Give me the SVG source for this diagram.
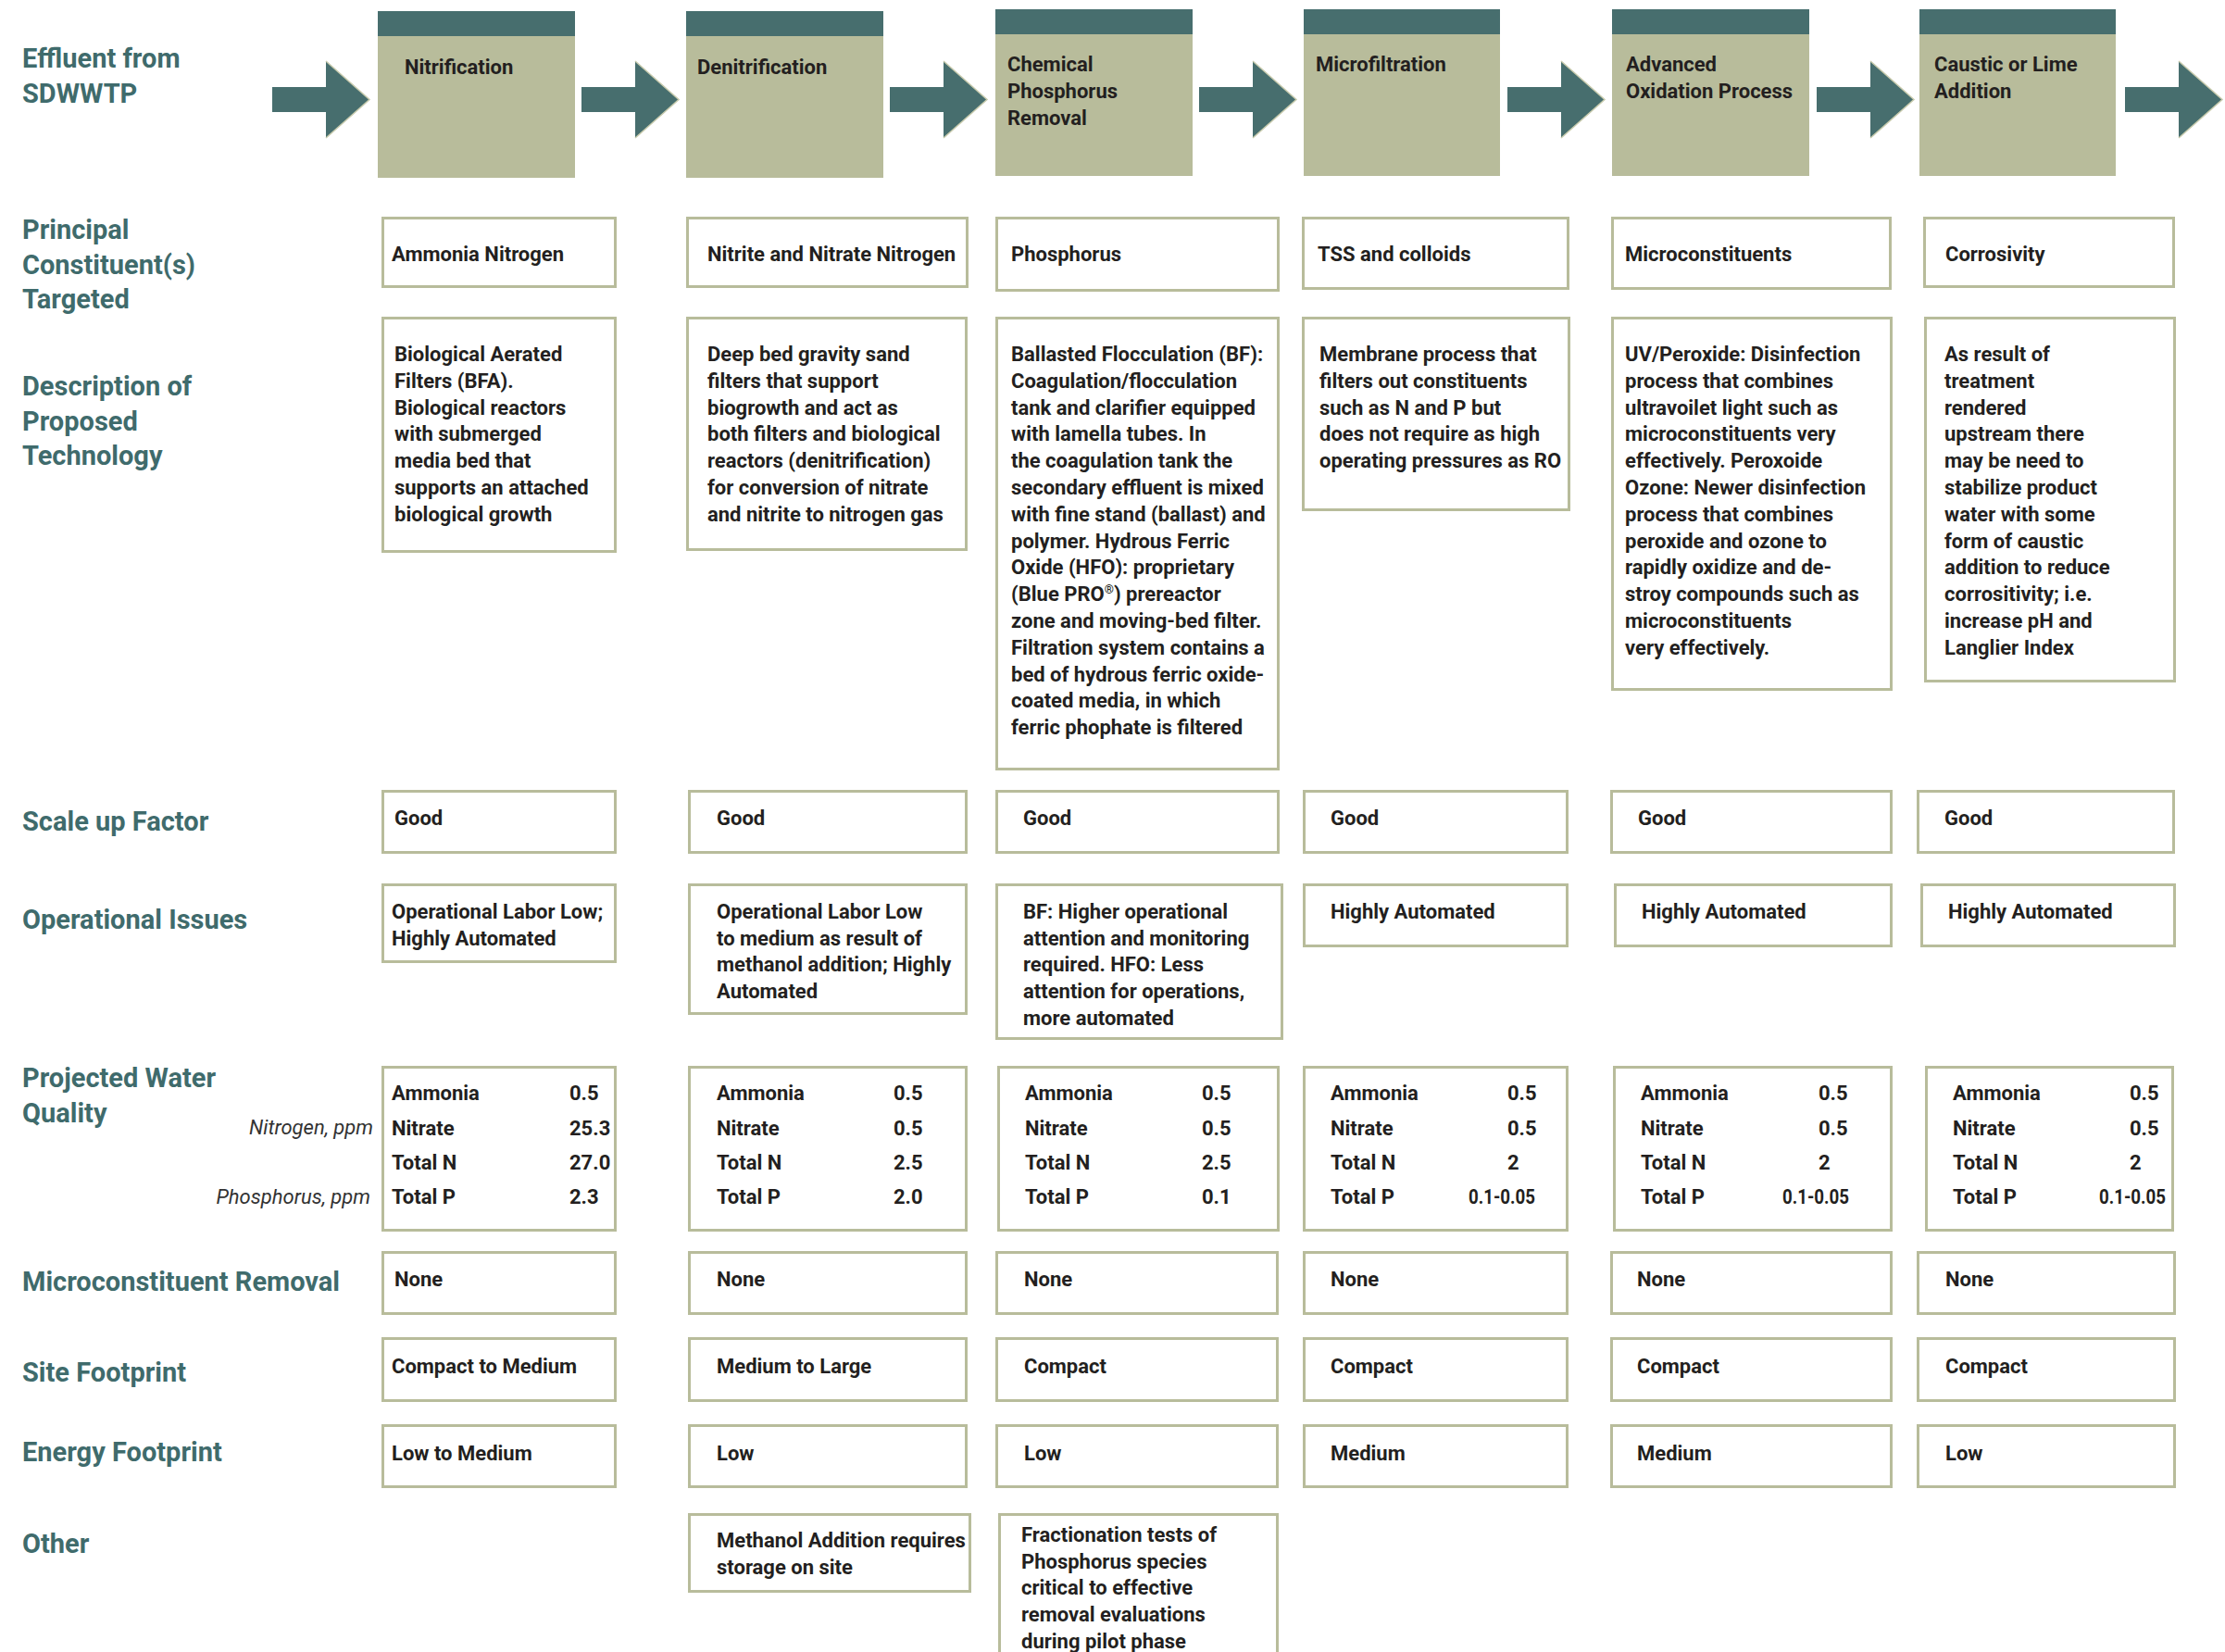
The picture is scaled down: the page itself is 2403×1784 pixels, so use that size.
<svg xmlns="http://www.w3.org/2000/svg" width="2403" height="1784" viewBox="0 0 2403 1784">
<style>
text{font-family:Roboto,"Liberation Sans",sans-serif;font-weight:bold;font-size:22px;fill:#231f20}
.lab{font-size:29px;fill:#3f6b6c}
.it{font-style:italic;font-weight:normal;fill:#333}
.cell{fill:#fff;stroke:#b8bc9b;stroke-width:3}
.hdr{fill:#b8bc9b}
.band{fill:#476e6e}
.arr{fill:#476e6e}
.edge{fill:none;stroke:#c8cbad;stroke-width:1.5}
</style>
<rect width="2403" height="1784" fill="#fff"/>

<g id="row-labels">
<text class="lab" x="24" y="73" font-size="28">Effluent from</text>
<text class="lab" x="24" y="111" font-size="28">SDWWTP</text>
<text class="lab" x="24" y="258">Principal</text>
<text class="lab" x="24" y="296">Constituent(s)</text>
<text class="lab" x="24" y="333">Targeted</text>
<text class="lab" x="24" y="427">Description of</text>
<text class="lab" x="24" y="465">Proposed</text>
<text class="lab" x="24" y="502">Technology</text>
<text class="lab" x="24" y="897">Scale up Factor</text>
<text class="lab" x="24" y="1003">Operational Issues</text>
<text class="lab" x="24" y="1174">Projected Water</text>
<text class="lab" x="24" y="1212">Quality</text>
<text class="it" x="403" y="1225" text-anchor="end">Nitrogen, ppm</text>
<text class="it" x="400" y="1300" text-anchor="end">Phosphorus, ppm</text>
<text class="lab" x="24" y="1394">Microconstituent Removal</text>
<text class="lab" x="24" y="1492">Site Footprint</text>
<text class="lab" x="24" y="1578">Energy Footprint</text>
<text class="lab" x="24" y="1677">Other</text>
</g>

<g id="connectors">
<path class="arr" d="M294,94H352V66L399,107.5L352,149V121H294Z"/>
<polyline class="edge" points="352,66 399,107.5 352,149"/>
<path class="arr" d="M628,94H686V66L733,107.5L686,149V121H628Z"/>
<polyline class="edge" points="686,66 733,107.5 686,149"/>
<path class="arr" d="M961,94H1019V66L1066,107.5L1019,149V121H961Z"/>
<polyline class="edge" points="1019,66 1066,107.5 1019,149"/>
<path class="arr" d="M1295,94H1353V66L1400,107.5L1353,149V121H1295Z"/>
<polyline class="edge" points="1353,66 1400,107.5 1353,149"/>
<path class="arr" d="M1628,94H1686V66L1733,107.5L1686,149V121H1628Z"/>
<polyline class="edge" points="1686,66 1733,107.5 1686,149"/>
<path class="arr" d="M1962,94H2020V66L2067,107.5L2020,149V121H1962Z"/>
<polyline class="edge" points="2020,66 2067,107.5 2020,149"/>
<path class="arr" d="M2295,94H2353V66L2400,107.5L2353,149V121H2295Z"/>
<polyline class="edge" points="2353,66 2400,107.5 2353,149"/>
</g>

<g id="step-nitrification">
<rect class="hdr" x="408" y="12" width="213" height="180"/><rect class="band" x="408" y="12" width="213" height="27"/>
<text x="437" y="80">Nitrification</text>
</g>
<g id="step-denitrification">
<rect class="hdr" x="741" y="12" width="213" height="180"/><rect class="band" x="741" y="12" width="213" height="27"/>
<text x="753" y="80">Denitrification</text>
</g>
<g id="step-chemical">
<rect class="hdr" x="1075" y="10" width="213" height="180"/><rect class="band" x="1075" y="10" width="213" height="27"/>
<text x="1088" y="77">Chemical</text><text x="1088" y="106">Phosphorus</text><text x="1088" y="135">Removal</text>
</g>
<g id="step-microfiltration">
<rect class="hdr" x="1408" y="10" width="212" height="180"/><rect class="band" x="1408" y="10" width="212" height="27"/>
<text x="1421" y="77">Microfiltration</text>
</g>
<g id="step-aop">
<rect class="hdr" x="1741" y="10" width="213" height="180"/><rect class="band" x="1741" y="10" width="213" height="27"/>
<text x="1756" y="77">Advanced</text><text x="1756" y="106">Oxidation Process</text>
</g>
<g id="step-caustic">
<rect class="hdr" x="2073" y="10" width="212" height="180"/><rect class="band" x="2073" y="10" width="212" height="27"/>
<text x="2089" y="77">Caustic or Lime</text><text x="2089" y="106">Addition</text>
</g>

<!-- Principal constituents -->
<g id="principal-1"><rect class="cell" x="413.5" y="235.5" width="251" height="74"/><text x="423" y="282">Ammonia Nitrogen</text></g>
<g id="principal-2"><rect class="cell" x="742.5" y="235.5" width="302" height="74"/><text x="764" y="282">Nitrite and Nitrate Nitrogen</text></g>
<g id="principal-3"><rect class="cell" x="1076.5" y="235.5" width="304" height="78"/><text x="1092" y="282">Phosphorus</text></g>
<g id="principal-4"><rect class="cell" x="1407.5" y="235.5" width="286" height="76"/><text x="1423" y="282">TSS and colloids</text></g>
<g id="principal-5"><rect class="cell" x="1741.5" y="235.5" width="300" height="76"/><text x="1755" y="282">Microconstituents</text></g>
<g id="principal-6"><rect class="cell" x="2078.5" y="235.5" width="269" height="74"/><text x="2101" y="282">Corrosivity</text></g>

<!-- Descriptions -->
<g id="desc-1"><rect class="cell" x="413.5" y="343.5" width="251" height="252"/>
<text x="426" y="390">Biological Aerated</text><text x="426" y="418.8">Filters (BFA).</text><text x="426" y="447.6">Biological reactors</text><text x="426" y="476.4">with submerged</text><text x="426" y="505.2">media bed that</text><text x="426" y="534">supports an attached</text><text x="426" y="562.8">biological growth</text>
</g>
<g id="desc-2"><rect class="cell" x="742.5" y="343.5" width="301" height="250"/>
<text x="764" y="390">Deep bed gravity sand</text><text x="764" y="418.8">filters that support</text><text x="764" y="447.6">biogrowth and act as</text><text x="764" y="476.4">both filters and biological</text><text x="764" y="505.2">reactors (denitrification)</text><text x="764" y="534">for conversion of nitrate</text><text x="764" y="562.8">and nitrite to nitrogen gas</text>
</g>
<g id="desc-3"><rect class="cell" x="1076.5" y="343.5" width="304" height="487"/>
<text x="1092" y="390">Ballasted Flocculation (BF):</text><text x="1092" y="418.8">Coagulation/flocculation</text><text x="1092" y="447.6">tank and clarifier equipped</text><text x="1092" y="476.4">with lamella tubes. In</text><text x="1092" y="505.2">the coagulation tank the</text><text x="1092" y="534">secondary effluent is mixed</text><text x="1092" y="562.8">with fine stand (ballast) and</text><text x="1092" y="591.6">polymer. Hydrous Ferric</text><text x="1092" y="620.4">Oxide (HFO): proprietary</text><text x="1092" y="649.2">(Blue PRO<tspan font-size="13" dy="-8">®</tspan><tspan dy="8">) prereactor</tspan></text><text x="1092" y="678">zone and moving-bed filter.</text><text x="1092" y="706.8">Filtration system contains a</text><text x="1092" y="735.6">bed of hydrous ferric oxide-</text><text x="1092" y="764.4">coated media, in which</text><text x="1092" y="793.2">ferric phophate is filtered</text>
</g>
<g id="desc-4"><rect class="cell" x="1407.5" y="343.5" width="287" height="207"/>
<text x="1425" y="390">Membrane process that</text><text x="1425" y="418.8">filters out constituents</text><text x="1425" y="447.6">such as N and P but</text><text x="1425" y="476.4">does not require as high</text><text x="1425" y="505.2">operating pressures as RO</text>
</g>
<g id="desc-5"><rect class="cell" x="1741.5" y="343.5" width="301" height="401"/>
<text x="1755" y="390">UV/Peroxide: Disinfection</text><text x="1755" y="418.8">process that combines</text><text x="1755" y="447.6">ultravoilet light such as</text><text x="1755" y="476.4">microconstituents very</text><text x="1755" y="505.2">effectively. Peroxoide</text><text x="1755" y="534">Ozone: Newer disinfection</text><text x="1755" y="562.8">process that combines</text><text x="1755" y="591.6">peroxide and ozone to</text><text x="1755" y="620.4">rapidly oxidize and de-</text><text x="1755" y="649.2">stroy compounds such as</text><text x="1755" y="678">microconstituents</text><text x="1755" y="706.8">very effectively.</text>
</g>
<g id="desc-6"><rect class="cell" x="2079.5" y="343.5" width="269" height="392"/>
<text x="2100" y="390">As result of</text><text x="2100" y="418.8">treatment</text><text x="2100" y="447.6">rendered</text><text x="2100" y="476.4">upstream there</text><text x="2100" y="505.2">may be need to</text><text x="2100" y="534">stabilize product</text><text x="2100" y="562.8">water with some</text><text x="2100" y="591.6">form of caustic</text><text x="2100" y="620.4">addition to reduce</text><text x="2100" y="649.2">corrositivity; i.e.</text><text x="2100" y="678">increase pH and</text><text x="2100" y="706.8">Langlier Index</text>
</g>

<!-- Scale up -->
<g id="scale-1"><rect class="cell" x="413.5" y="854.5" width="251" height="66"/><text x="426" y="891">Good</text></g>
<g id="scale-2"><rect class="cell" x="744.5" y="854.5" width="299" height="66"/><text x="774" y="891">Good</text></g>
<g id="scale-3"><rect class="cell" x="1076.5" y="854.5" width="304" height="66"/><text x="1105" y="891">Good</text></g>
<g id="scale-4"><rect class="cell" x="1408.5" y="854.5" width="284" height="66"/><text x="1437" y="891">Good</text></g>
<g id="scale-5"><rect class="cell" x="1740.5" y="854.5" width="302" height="66"/><text x="1769" y="891">Good</text></g>
<g id="scale-6"><rect class="cell" x="2071.5" y="854.5" width="276" height="66"/><text x="2100" y="891">Good</text></g>

<!-- Operational -->
<g id="ops-1"><rect class="cell" x="413.5" y="955.5" width="251" height="83"/><text x="423" y="992">Operational Labor Low;</text><text x="423" y="1020.7">Highly Automated</text></g>
<g id="ops-2"><rect class="cell" x="744.5" y="955.5" width="299" height="139"/><text x="774" y="992">Operational Labor Low</text><text x="774" y="1020.7">to medium as result of</text><text x="774" y="1049.4">methanol addition; Highly</text><text x="774" y="1078.1">Automated</text></g>
<g id="ops-3"><rect class="cell" x="1076.5" y="955.5" width="308" height="166"/><text x="1105" y="992">BF: Higher operational</text><text x="1105" y="1020.7">attention and monitoring</text><text x="1105" y="1049.4">required. HFO: Less</text><text x="1105" y="1078.1">attention for operations,</text><text x="1105" y="1106.8">more automated</text></g>
<g id="ops-4"><rect class="cell" x="1408.5" y="955.5" width="284" height="66"/><text x="1437" y="992">Highly Automated</text></g>
<g id="ops-5"><rect class="cell" x="1744.5" y="955.5" width="298" height="66"/><text x="1773" y="992">Highly Automated</text></g>
<g id="ops-6"><rect class="cell" x="2075.5" y="955.5" width="273" height="66"/><text x="2104" y="992">Highly Automated</text></g>

<!-- Water quality -->
<g id="wq-1"><rect class="cell" x="413.5" y="1152.5" width="251" height="176"/>
<text x="423" y="1188">Ammonia</text><text x="423" y="1226">Nitrate</text><text x="423" y="1263">Total N</text><text x="423" y="1300">Total P</text>
<text x="615" y="1188">0.5</text><text x="615" y="1226">25.3</text><text x="615" y="1263">27.0</text><text x="615" y="1300">2.3</text></g>
<g id="wq-2"><rect class="cell" x="744.5" y="1152.5" width="299" height="176"/>
<text x="774" y="1188">Ammonia</text><text x="774" y="1226">Nitrate</text><text x="774" y="1263">Total N</text><text x="774" y="1300">Total P</text>
<text x="965" y="1188">0.5</text><text x="965" y="1226">0.5</text><text x="965" y="1263">2.5</text><text x="965" y="1300">2.0</text></g>
<g id="wq-3"><rect class="cell" x="1078.5" y="1152.5" width="302" height="176"/>
<text x="1107" y="1188">Ammonia</text><text x="1107" y="1226">Nitrate</text><text x="1107" y="1263">Total N</text><text x="1107" y="1300">Total P</text>
<text x="1298" y="1188">0.5</text><text x="1298" y="1226">0.5</text><text x="1298" y="1263">2.5</text><text x="1298" y="1300">0.1</text></g>
<g id="wq-4"><rect class="cell" x="1408.5" y="1152.5" width="284" height="176"/>
<text x="1437" y="1188">Ammonia</text><text x="1437" y="1226">Nitrate</text><text x="1437" y="1263">Total N</text><text x="1437" y="1300">Total P</text>
<text x="1628" y="1188">0.5</text><text x="1628" y="1226">0.5</text><text x="1628" y="1263">2</text><text x="1586" y="1300" textLength="72" lengthAdjust="spacingAndGlyphs">0.1-0.05</text></g>
<g id="wq-5"><rect class="cell" x="1743.5" y="1152.5" width="299" height="176"/>
<text x="1772" y="1188">Ammonia</text><text x="1772" y="1226">Nitrate</text><text x="1772" y="1263">Total N</text><text x="1772" y="1300">Total P</text>
<text x="1964" y="1188">0.5</text><text x="1964" y="1226">0.5</text><text x="1964" y="1263">2</text><text x="1925" y="1300" textLength="72" lengthAdjust="spacingAndGlyphs">0.1-0.05</text></g>
<g id="wq-6"><rect class="cell" x="2080.5" y="1152.5" width="266" height="176"/>
<text x="2109" y="1188">Ammonia</text><text x="2109" y="1226">Nitrate</text><text x="2109" y="1263">Total N</text><text x="2109" y="1300">Total P</text>
<text x="2300" y="1188">0.5</text><text x="2300" y="1226">0.5</text><text x="2300" y="1263">2</text><text x="2267" y="1300" textLength="72" lengthAdjust="spacingAndGlyphs">0.1-0.05</text></g>

<!-- Microconstituent removal -->
<g id="micro-1"><rect class="cell" x="413.5" y="1352.5" width="251" height="66"/><text x="426" y="1389">None</text></g>
<g id="micro-2"><rect class="cell" x="744.5" y="1352.5" width="299" height="66"/><text x="774" y="1389">None</text></g>
<g id="micro-3"><rect class="cell" x="1076.5" y="1352.5" width="303" height="66"/><text x="1106" y="1389">None</text></g>
<g id="micro-4"><rect class="cell" x="1408.5" y="1352.5" width="284" height="66"/><text x="1437" y="1389">None</text></g>
<g id="micro-5"><rect class="cell" x="1740.5" y="1352.5" width="302" height="66"/><text x="1768" y="1389">None</text></g>
<g id="micro-6"><rect class="cell" x="2071.5" y="1352.5" width="277" height="66"/><text x="2101" y="1389">None</text></g>

<!-- Site footprint -->
<g id="site-1"><rect class="cell" x="413.5" y="1445.5" width="251" height="67"/><text x="423" y="1483">Compact to Medium</text></g>
<g id="site-2"><rect class="cell" x="744.5" y="1445.5" width="299" height="67"/><text x="774" y="1483">Medium to Large</text></g>
<g id="site-3"><rect class="cell" x="1076.5" y="1445.5" width="303" height="67"/><text x="1106" y="1483">Compact</text></g>
<g id="site-4"><rect class="cell" x="1408.5" y="1445.5" width="284" height="67"/><text x="1437" y="1483">Compact</text></g>
<g id="site-5"><rect class="cell" x="1740.5" y="1445.5" width="302" height="67"/><text x="1768" y="1483">Compact</text></g>
<g id="site-6"><rect class="cell" x="2071.5" y="1445.5" width="277" height="67"/><text x="2101" y="1483">Compact</text></g>

<!-- Energy footprint -->
<g id="energy-1"><rect class="cell" x="413.5" y="1539.5" width="251" height="66"/><text x="423" y="1577">Low to Medium</text></g>
<g id="energy-2"><rect class="cell" x="744.5" y="1539.5" width="299" height="66"/><text x="774" y="1577">Low</text></g>
<g id="energy-3"><rect class="cell" x="1076.5" y="1539.5" width="303" height="66"/><text x="1106" y="1577">Low</text></g>
<g id="energy-4"><rect class="cell" x="1408.5" y="1539.5" width="284" height="66"/><text x="1437" y="1577">Medium</text></g>
<g id="energy-5"><rect class="cell" x="1740.5" y="1539.5" width="302" height="66"/><text x="1768" y="1577">Medium</text></g>
<g id="energy-6"><rect class="cell" x="2071.5" y="1539.5" width="277" height="66"/><text x="2101" y="1577">Low</text></g>

<!-- Other -->
<g id="other-2"><rect class="cell" x="744.5" y="1635.5" width="303" height="83"/><text x="774" y="1671">Methanol Addition requires</text><text x="774" y="1699.5">storage on site</text></g>
<g id="other-3"><rect class="cell" x="1079.5" y="1635.5" width="300" height="170"/><text x="1103" y="1665">Fractionation tests of</text><text x="1103" y="1693.7">Phosphorus species</text><text x="1103" y="1722.4">critical to effective</text><text x="1103" y="1751.1">removal evaluations</text><text x="1103" y="1779.8">during pilot phase</text></g>
</svg>
